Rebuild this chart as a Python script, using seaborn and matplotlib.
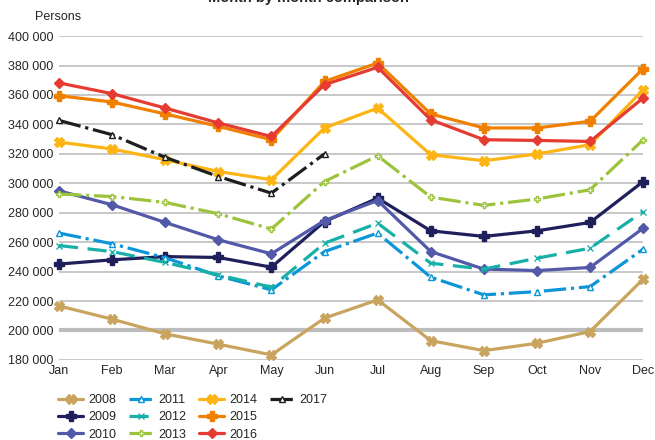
import matplotlib
matplotlib.use("Agg")
import matplotlib.pyplot as plt
from matplotlib.lines import Line2D
import seaborn as sns

months = ["Jan", "Feb", "Mar", "Apr", "May", "Jun", "Jul", "Aug", "Sep", "Oct", "Nov", "Dec"]

v2008 = [216700, 207700, 197700, 190700, 183400, 208400, 220800, 193100, 186300, 191300, 199300, 234900]
v2009 = [245100, 248000, 250200, 249600, 243000, 274000, 289900, 267700, 263900, 267700, 273400, 301200]
v2010 = [294900, 285400, 273400, 261600, 252100, 274700, 288300, 253600, 241700, 240700, 242800, 269500]
v2011 = [266200, 258900, 249400, 237100, 227600, 253600, 266200, 236200, 224200, 226400, 229800, 255300]
v2012 = [257700, 253600, 246200, 237800, 229400, 259300, 272900, 245700, 241700, 249100, 255900, 280800]
v2013 = [292700, 291000, 287000, 279300, 268900, 301200, 318700, 290600, 285000, 289300, 295600, 329600]
v2014 = [328000, 323300, 316000, 308000, 302400, 337600, 351100, 319400, 315300, 319900, 326200, 363600]
v2015 = [359500, 355200, 347100, 338700, 329600, 369200, 381700, 347100, 337600, 337600, 342100, 377900]
v2016 = [368200, 360900, 351100, 341000, 331800, 367000, 378800, 343200, 329600, 329100, 328400, 358000]
v2017 = [342700, 333000, 317600, 304600, 293300, 320000]

y_ticks = [180000, 200000, 220000, 240000, 260000, 280000, 300000, 320000, 340000, 360000, 380000, 400000]

# label, values, color, linestyle, marker, marker face, marker size
series = [
    ("2008", v2008, "#C9A45E", "-", "X", None, 7),
    ("2009", v2009, "#1F1F5C", "-", "P", None, 7),
    ("2010", v2010, "#5159A8", "-", "D", None, 5),
    ("2011", v2011, "#0C96D8", (0, (7, 1.5, 1, 1.5)), "^", "white", 5),
    ("2012", v2012, "#17B0A8", (0, (6, 3)), "x", "white", 4),
    ("2013", v2013, "#9BC43C", (0, (7, 1.5, 1, 1.5)), "P", "white", 4),
    ("2014", v2014, "#FDB515", "-", "X", None, 7),
    ("2015", v2015, "#F08000", "-", "P", None, 7),
    ("2016", v2016, "#E63B32", "-", "D", None, 5),
    ("2017", v2017, "#1E1E1E", (0, (7, 1.5, 1, 1.5)), "^", "white", 5),
]

sns.set_style("white")
plt.rcParams["font.family"] = ["Liberation Sans", "DejaVu Sans"]

fig, ax = plt.subplots(figsize=(6.55, 4.4), dpi=100)
fig.subplots_adjust(left=0.090, right=0.982, bottom=0.182, top=0.918)

for label, vals, color, ls, marker, face, ms in series:
    sns.lineplot(x=months[:len(vals)], y=vals, ax=ax, color=color, linestyle=ls,
                 linewidth=2.3, marker=marker, markersize=ms,
                 markerfacecolor=face if face else color,
                 markeredgecolor=color, markeredgewidth=1,
                 label=label, sort=False, clip_on=False, zorder=3)

ax.set_xlim(0, 11)
ax.set_ylim(180000, 400000)
ax.set_yticks(y_ticks)
ax.set_yticklabels([f"{t:,}".replace(",", " ") for t in y_ticks])
ax.tick_params(axis="both", labelsize=9, length=0, pad=4)
ax.set_xlabel("")
ax.set_ylabel("")

for t in y_ticks:
    if t == 200000:
        ax.axhline(t, color="#BDBDBD", linewidth=3, zorder=1)
    else:
        ax.axhline(t, color="#C8C8C8", linewidth=1.4, zorder=1)

for s in ax.spines.values():
    s.set_visible(False)

fig.text(35 / 655, 1 - 17 / 440, "Persons", fontsize=9, va="center", ha="left")
# title sits half outside the top edge, as in the original export
fig.text(308 / 655, 1.004, "Month by month comparison", fontsize=10.5, fontweight="bold",
         va="center", ha="center")

# pad the last legend column so it reads 3,3,3,1 like the original
handles, labels = ax.get_legend_handles_labels()
blank = Line2D([], [], linestyle="none")
handles = handles + [blank, blank]
labels = labels + ["", ""]
ax.legend(handles, labels, ncol=4, loc="upper left", bbox_to_anchor=(-0.01, -0.09),
          frameon=False, fontsize=9, handlelength=2.0, handletextpad=0.4,
          columnspacing=1.0, labelspacing=0.42, borderaxespad=0)

fig.savefig("out.png", dpi=100)
